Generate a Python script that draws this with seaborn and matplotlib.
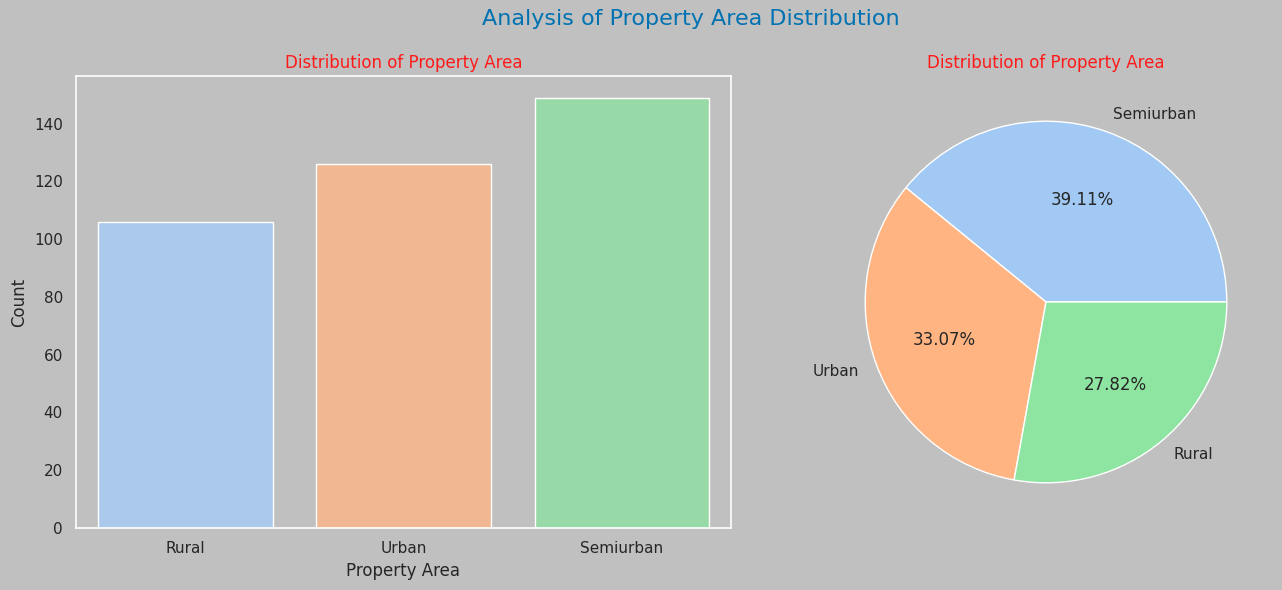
import matplotlib
matplotlib.use("Agg")
import matplotlib.pyplot as plt
import seaborn as sns
import pandas as pd

# counts per property area
areas = ['Rural', 'Urban', 'Semiurban']
counts = [106, 126, 149]

# pie order as it appears (value_counts order)
pie_labels = ['Semiurban', 'Urban', 'Rural']
pie_counts = [149, 126, 106]

sns.set_theme(style="white", rc={'axes.facecolor': 'silver', 'figure.facecolor': 'silver',
                                 'axes.edgecolor': 'white'})
colors = sns.color_palette('pastel')

df = pd.DataFrame({'Property_Area': areas, 'Count': counts})

fig, axes = plt.subplots(1, 2, figsize=(12.82, 5.9), dpi=100)
fig.suptitle('Analysis of Property Area Distribution', fontsize=16, color='#0072b2',
             x=0.539, y=0.985)

# 1. bar chart
sns.barplot(data=df, x='Property_Area', y='Count', hue='Property_Area', palette=colors[:3],
            saturation=0.75, edgecolor='white', legend=False, ax=axes[0])
axes[0].set_title('Distribution of Property Area', color='#ff1a1a', fontsize=12)
axes[0].set_xlabel('Property Area')
axes[0].set_ylabel('Count')
for s in axes[0].spines.values():
    s.set_color('white')
    s.set_linewidth(1.2)

# 2. pie chart
axes[1].pie(pie_counts, labels=pie_labels, autopct='%.2f%%', colors=colors[:3],
            wedgeprops={'edgecolor': 'white'}, textprops={'fontsize': 11})
for t in axes[1].texts:
    if '%' in t.get_text():
        t.set_fontsize(12)
axes[1].set_title('Distribution of Property Area', color='#ff1a1a', fontsize=12)

W, H = 1282, 590
axes[0].set_position([76 / W, 1 - 528 / H, 655 / W, 452 / H])
axes[1].set_position([820 / W, 1 - 528 / H, 452 / W, 452 / H])

plt.savefig('out.png')
